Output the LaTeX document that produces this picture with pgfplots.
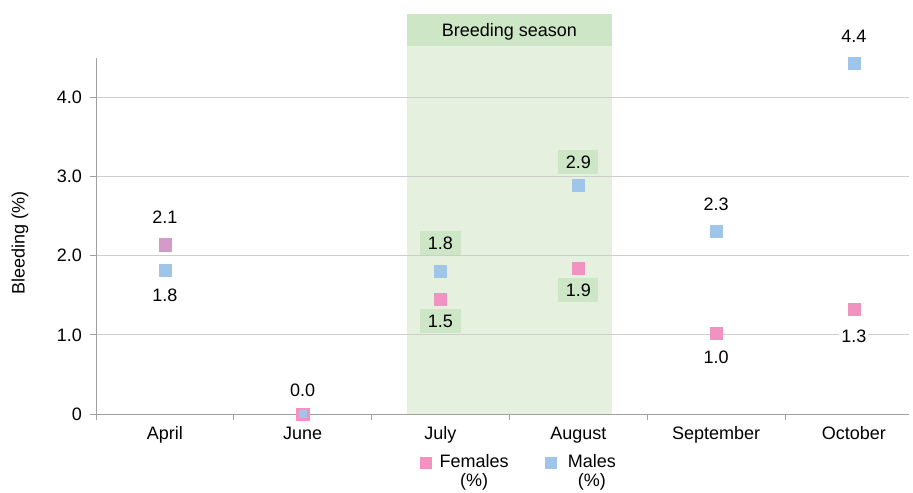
\documentclass[border=0pt]{standalone}
\usepackage{pgfplots}
\pgfplotsset{compat=1.18}
\usepackage{fontspec}
\setmainfont{Liberation Sans}
\definecolor{fem}{RGB}{241,146,193}
\definecolor{femA}{RGB}{213,155,200}
\definecolor{mal}{RGB}{159,197,232}
\definecolor{hdr}{RGB}{205,230,197}
\definecolor{band}{RGB}{229,240,223}
\definecolor{axgray}{RGB}{160,160,160}
\definecolor{grd}{RGB}{205,205,205}
\begin{document}
\fontsize{18bp}{21bp}\selectfont
\begin{tikzpicture}[font=\fontsize{18bp}{21bp}\selectfont,
  lbl/.style={fill=white, inner xsep=2bp, inner ysep=2bp, text height=12.9bp, text depth=0pt, anchor=center},
  box/.style={fill=hdr, inner xsep=7.5bp, inner ysep=5.5bp, text height=12.9bp, text depth=0pt, anchor=center}]
\begin{axis}[
  set layers,
  clip=false,
  scale only axis, width=813bp, height=356bp,
  xmin=-0.5, xmax=5.4, ymin=0, ymax=4.5,
  axis x line*=bottom, axis y line*=left,
  axis line style={axgray, line width=0.8bp},
  xtick={0,...,5},
  xticklabels={April,June,July,August,September,October},
  major x tick style={draw=none},
  minor xtick={-0.5,0.5,...,4.5},
  minor x tick style={axgray, line width=0.8bp},
  minor tick length=6bp,
  ytick={0,1,2,3,4},
  yticklabels={0,1.0,2.0,3.0,4.0},
  major y tick style={axgray, line width=0.8bp},
  major tick length=6bp,
  tick align=outside,
  ymajorgrids,
  grid style={grd, line width=0.8bp},
  xticklabel style={anchor=base, yshift=-19.5bp, inner sep=0pt},
  yticklabel style={anchor=east, xshift=-8bp, inner sep=0pt},
  ylabel={Bleeding (\%)},
  ylabel style={at={(axis description cs:-0.0935,0.48)}, anchor=center},
  legend columns=2,
  legend style={draw=none, fill=none, inner sep=0pt,
    at={(axis description cs:0.3985,-0.1053)}, anchor=north west,
    cells={anchor=base west},
    /tikz/every odd column/.append style={column sep=6bp},
    /tikz/every even column/.append style={column sep=34bp}},
  legend image code/.code={\fill[#1] (0bp,-1bp) rectangle (11bp,10bp);},
]
\begin{pgfonlayer}{axis background}
\fill[band] (axis cs:1.756,0) rectangle (axis cs:3.244,4.65);
\end{pgfonlayer}
\fill[hdr] (axis cs:1.756,4.65) rectangle (axis cs:3.244,5.06);
\node[anchor=center, text height=12.9bp, text depth=0pt] at (axis cs:2.5,4.855) {Breeding season};

\addplot[only marks, mark=square*, mark size=6.1bp, color=fem] coordinates {
  (0,2.14) (1,0) (2,1.45) (3,1.84) (4,1.02) (5,1.32)};
\addlegendentry{\def\arraystretch{0.92}\begin{tabular}[t]{@{}c@{}}Females\\(\%)\end{tabular}}
\addplot[only marks, mark=square*, mark size=6.1bp, color=mal] coordinates {
  (0,1.82) (2,1.81) (3,2.89) (4,2.31) (5,4.43)};
\addlegendentry{\def\arraystretch{0.92}\begin{tabular}[t]{@{\hspace{4bp}}c@{}}Males\\(\%)\end{tabular}}
\addplot[only marks, mark=square*, mark size=6.1bp, color=femA, forget plot] coordinates {(0,2.14)};
\addplot[only marks, mark=square*, mark size=3.6bp, color=mal, forget plot] coordinates {(1,0)};

% value labels
\node[lbl] at ([yshift=28bp]axis cs:0,2.14) {2.1};
\node[lbl] at ([yshift=-25bp]axis cs:0,1.82) {1.8};
\node[lbl] at ([yshift=24bp]axis cs:1,0) {0.0};
\node[box] at ([yshift=28bp]axis cs:2,1.81) {1.8};
\node[box] at ([yshift=-22bp]axis cs:2,1.45) {1.5};
\node[box] at ([yshift=23bp]axis cs:3,2.89) {2.9};
\node[box] at ([yshift=-21.5bp]axis cs:3,1.84) {1.9};
\node[lbl] at ([yshift=27bp]axis cs:4,2.31) {2.3};
\node[lbl] at ([yshift=-24bp]axis cs:4,1.02) {1.0};
\node[lbl] at ([yshift=27bp]axis cs:5,4.43) {4.4};
\node[lbl] at ([yshift=-26bp]axis cs:5,1.32) {1.3};
\end{axis}
\pgfresetboundingbox
\path ([shift={(-96bp,-79bp)}]current axis.south west) rectangle ++(913bp,493bp);
\end{tikzpicture}
\end{document}
